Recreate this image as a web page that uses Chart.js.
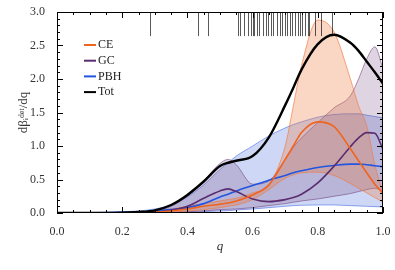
<!DOCTYPE html>
<html>
<head>
<meta charset="utf-8">
<script src="https://cdn.jsdelivr.net/npm/chart.js@4.4.1/dist/chart.umd.min.js"></script>
<style>
  html, body { margin: 0; padding: 0; background: #fff; }
</style>
</head>
<body>
<canvas id="chart" width="395" height="270"></canvas>
<script>
// mass ratio grid
const q = [0, 0.1, 0.2, 0.25, 0.3, 0.35, 0.4, 0.45, 0.5, 0.525, 0.55, 0.6, 0.65, 0.7, 0.725, 0.75, 0.8, 0.85, 0.9, 0.925, 0.95, 0.975, 1.0];

const totMed = [0, 0, 0.005, 0.015, 0.04, 0.12, 0.27, 0.47, 0.70, 0.75, 0.78, 0.85, 1.13, 1.61, 1.87, 2.14, 2.52, 2.66, 2.54, 2.42, 2.26, 2.10, 1.93];

const ceMed = [0, 0, 0, 0.005, 0.01, 0.03, 0.06, 0.10, 0.13, 0.15, 0.18, 0.27, 0.42, 0.80, 1.00, 1.20, 1.36, 1.29, 0.96, 0.78, 0.60, 0.43, 0.29];
const ceHi  = [0, 0, 0.005, 0.01, 0.03, 0.06, 0.10, 0.14, 0.18, 0.20, 0.22, 0.30, 0.42, 1.00, 1.60, 2.20, 2.88, 2.70, 2.00, 1.60, 1.30, 0.72, 0.30];
const ceLo  = [0, 0, 0, 0, 0, 0.01, 0.03, 0.05, 0.08, 0.10, 0.12, 0.20, 0.35, 0.52, 0.57, 0.60, 0.61, 0.56, 0.44, 0.37, 0.30, 0.23, 0.16];

const gcMed = [0, 0, 0, 0.005, 0.01, 0.04, 0.10, 0.22, 0.33, 0.36, 0.32, 0.21, 0.17, 0.20, 0.23, 0.28, 0.45, 0.70, 0.99, 1.12, 1.20, 1.19, 0.95];
const gcHi  = [0, 0, 0.005, 0.01, 0.03, 0.10, 0.25, 0.48, 0.74, 0.80, 0.72, 0.43, 0.48, 0.80, 0.98, 1.12, 1.35, 1.57, 1.75, 2.00, 2.30, 2.48, 2.15];
const gcLo  = [0, 0, 0, 0, 0, 0.01, 0.02, 0.03, 0.05, 0.055, 0.06, 0.08, 0.11, 0.14, 0.16, 0.18, 0.21, 0.25, 0.29, 0.32, 0.35, 0.37, 0.33];

const pbhMed = [0, 0, 0.01, 0.015, 0.03, 0.05, 0.08, 0.14, 0.24, 0.28, 0.33, 0.41, 0.49, 0.56, 0.60, 0.63, 0.68, 0.71, 0.73, 0.73, 0.72, 0.705, 0.69];
const pbhHi  = [0, 0.005, 0.02, 0.03, 0.06, 0.12, 0.24, 0.42, 0.65, 0.75, 0.85, 1.00, 1.15, 1.27, 1.32, 1.36, 1.43, 1.47, 1.48, 1.48, 1.46, 1.44, 1.42];
const pbhLo  = [0, 0, 0, 0, 0.003, 0.005, 0.01, 0.02, 0.03, 0.035, 0.045, 0.06, 0.08, 0.10, 0.11, 0.115, 0.12, 0.12, 0.11, 0.105, 0.10, 0.095, 0.09];

// detected events (rug on top)
const rugQ = [0.285, 0.433, 0.463, 0.555, 0.56, 0.575, 0.585, 0.595, 0.60, 0.605, 0.615, 0.62, 0.632, 0.64, 0.647, 0.655, 0.663, 0.675, 0.685, 0.69, 0.70, 0.705, 0.715, 0.72, 0.73, 0.74, 0.745, 0.75, 0.76, 0.77, 0.773, 0.79, 0.81, 0.845];
const rugBottom = 2.64;

const xTicks = [0, 0.2, 0.4, 0.6, 0.8, 1.0];
const yTicks = [0, 0.5, 1.0, 1.5, 2.0, 2.5, 3.0];

const legendItems = [
  { label: 'CE', color: '#f0641e' },
  { label: 'GC', color: '#5c2d6e' },
  { label: 'PBH', color: '#2255e0' },
  { label: 'Tot', color: '#000000' }
];

const SERIF = "'Liberation Serif', 'Times New Roman', 'DejaVu Serif', serif";

const pts = arr => arr.map((v, i) => ({ x: q[i], y: v }));

function band(arr, color, fill, order) {
  return {
    data: pts(arr),
    borderColor: color.edge,
    backgroundColor: color.fill,
    borderWidth: 0.8,
    pointRadius: 0,
    cubicInterpolationMode: 'monotone',
    fill: fill,
    order: order
  };
}
function line(arr, color, width, order) {
  return {
    data: pts(arr),
    borderColor: color,
    borderWidth: width,
    pointRadius: 0,
    cubicInterpolationMode: 'monotone',
    fill: false,
    order: order
  };
}

const pbhCol = { edge: 'rgba(60,100,225,0.7)', fill: 'rgba(60,100,220,0.25)' };
const gcCol  = { edge: 'rgba(110,60,120,0.7)', fill: 'rgba(110,60,120,0.22)' };
const ceCol  = { edge: 'rgba(240,120,60,0.8)', fill: 'rgba(240,120,60,0.3)' };

// lower order is drawn on top
const datasets = [
  band(pbhHi, pbhCol, '+1', 9), band(pbhLo, pbhCol, false, 9),
  band(gcHi, gcCol, '+1', 7), band(gcLo, gcCol, false, 7),
  band(ceHi, ceCol, '+1', 5), band(ceLo, ceCol, false, 5),
  line(pbhMed, '#2255e0', 1.6, 3),
  line(gcMed, '#5c2d6e', 1.6, 2),
  line(ceMed, '#f0641e', 1.6, 1),
  line(totMed, '#000000', 2.4, 0)
];

// rug, minor/major inward ticks, frame and legend
const decor = {
  id: 'decor',
  afterDatasetsDraw(chart) {
    const { ctx, scales: { x, y } } = chart;
    ctx.save();
    ctx.lineWidth = 1;
    ctx.strokeStyle = 'rgba(0,0,0,0.65)';
    rugQ.forEach(v => {
      const px = Math.round(x.getPixelForValue(v)) + 0.5;
      ctx.beginPath();
      ctx.moveTo(px, y.getPixelForValue(3));
      ctx.lineTo(px, y.getPixelForValue(rugBottom));
      ctx.stroke();
    });
    ctx.restore();
  },
  afterDraw(chart) {
    const { ctx, chartArea: a, scales: { x, y } } = chart;
    ctx.save();
    ctx.strokeStyle = '#000';
    ctx.lineWidth = 1;
    ctx.strokeRect(a.left + 0.5, a.top + 0.5, a.right - a.left - 1, a.bottom - a.top - 1);
    ctx.beginPath();
    for (let i = 0; i <= 20; i++) {
      const px = Math.round(x.getPixelForValue(i * 0.05)) + 0.5;
      const len = i % 4 === 0 ? 6 : 3;
      ctx.moveTo(px, a.bottom); ctx.lineTo(px, a.bottom - len);
      ctx.moveTo(px, a.top); ctx.lineTo(px, a.top + len);
    }
    for (let i = 0; i <= 30; i++) {
      const py = Math.round(y.getPixelForValue(i * 0.1)) + 0.5;
      const len = i % 5 === 0 ? 6 : 3;
      ctx.moveTo(a.left, py); ctx.lineTo(a.left + len, py);
      ctx.moveTo(a.right, py); ctx.lineTo(a.right - len, py);
    }
    ctx.stroke();

    // legend
    ctx.font = '12px ' + SERIF;
    ctx.textBaseline = 'middle';
    legendItems.forEach((it, i) => {
      const yy = 45 + i * 15.7;
      ctx.strokeStyle = it.color;
      ctx.lineWidth = 2;
      ctx.beginPath();
      ctx.moveTo(84, yy); ctx.lineTo(96, yy);
      ctx.stroke();
      ctx.fillStyle = '#222';
      ctx.fillText(it.label, 98, yy);
    });
    ctx.restore();
  }
};

Chart.defaults.font.family = SERIF;
Chart.defaults.font.size = 12;
Chart.defaults.color = '#333';

new Chart(document.getElementById('chart'), {
  type: 'line',
  data: { datasets },
  plugins: [decor],
  options: {
    responsive: false,
    animation: false,
    layout: { padding: { top: 12, right: 12 } },
    plugins: { legend: { display: false }, tooltip: { enabled: false } },
    scales: {
      x: {
        type: 'linear', min: 0, max: 1,
        afterBuildTicks: s => { s.ticks = xTicks.map(v => ({ value: v })); },
        afterFit: s => { s.height = 57; },
        grid: { display: false },
        border: { display: false },
        ticks: { padding: 4, callback: v => v.toFixed(1) },
        title: { display: true, text: 'q', font: { style: 'italic', size: 13 }, padding: { top: 0, bottom: 16 } }
      },
      y: {
        min: 0, max: 3,
        afterBuildTicks: s => { s.ticks = yTicks.map(v => ({ value: v })); },
        afterFit: s => { s.width = 57; },
        grid: { display: false },
        border: { display: false },
        ticks: { padding: 4, callback: v => v.toFixed(1) },
        title: { display: true, text: 'dβᵢᵈᵉᵗ/dq', font: { size: 13 }, padding: { top: 16, bottom: 0 } }
      }
    }
  }
});
</script>
</body>
</html>
